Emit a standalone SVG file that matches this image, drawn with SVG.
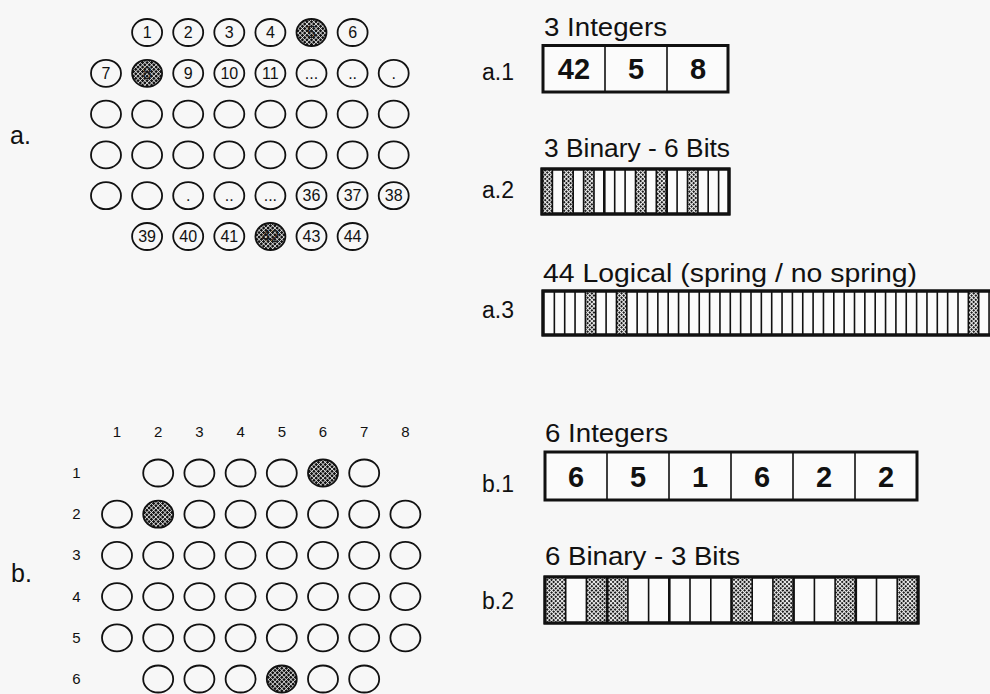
<svg xmlns="http://www.w3.org/2000/svg" width="990" height="694" viewBox="0 0 990 694">
<style>
.bg{fill:#f7f7f7}
.ring{fill:none;stroke:#111;stroke-width:1.8}
.shade{fill:url(#hatchDark);stroke:#111;stroke-width:1.8}
.n{font-family:"Liberation Sans",Arial,sans-serif;font-size:16px;fill:#111;text-anchor:middle}
.nd{font-family:"Liberation Sans",Arial,sans-serif;font-size:16px;fill:#1a1a1a;text-anchor:middle}
.ax{font-family:"Liberation Sans",Arial,sans-serif;font-size:15px;fill:#111;text-anchor:middle}
.big{font-family:"Liberation Sans",Arial,sans-serif;font-size:25px;fill:#111}
.lab{font-family:"Liberation Sans",Arial,sans-serif;font-size:23px;fill:#111}
.title{font-family:"Liberation Sans",Arial,sans-serif;font-size:25px;fill:#111}
.val{font-family:"Liberation Sans",Arial,sans-serif;font-size:29px;font-weight:bold;fill:#111;text-anchor:middle}
.box{fill:#fbfbfb;stroke:#111;stroke-width:3}
.div{fill:none;stroke:#111;stroke-width:1.6}
.divb{fill:none;stroke:#111;stroke-width:2.6}
.cell{fill:url(#hatchLight)}
</style>
<defs>
<pattern id="hatchDark" width="3.2" height="3.2" patternUnits="userSpaceOnUse" patternTransform="rotate(45)">
<rect width="3.2" height="3.2" fill="#111"/>
<rect width="0.7" height="3.2" fill="#eee"/>
<rect width="3.2" height="0.7" fill="#eee"/>
</pattern>
<pattern id="hatchLight" width="3" height="3" patternUnits="userSpaceOnUse" patternTransform="rotate(45)">
<rect width="3" height="3" fill="#1a1a1a"/>
<rect width="1" height="3" fill="#f0f0f0"/>
<rect width="3" height="1" fill="#f0f0f0"/>
</pattern>
<ellipse id="ring" rx="15" ry="13.5" class="ring"/>
<ellipse id="dot" rx="15" ry="13.5" class="shade"/>
</defs>
<rect class="bg" width="990" height="694"/>

<g id="panel-a">
<text class="big" x="10" y="144">a.</text>
<g id="a-1"><use href="#ring" x="147.1" y="32.5"/><text class="n" x="147.1" y="38">1</text></g>
<g id="a-2"><use href="#ring" x="188.2" y="32.5"/><text class="n" x="188.2" y="38">2</text></g>
<g id="a-3"><use href="#ring" x="229.3" y="32.5"/><text class="n" x="229.3" y="38">3</text></g>
<g id="a-4"><use href="#ring" x="270.4" y="32.5"/><text class="n" x="270.4" y="38">4</text></g>
<g id="a-5"><use href="#dot" x="311.5" y="32.5"/><text class="nd" x="311.5" y="38">5</text></g>
<g id="a-6"><use href="#ring" x="352.6" y="32.5"/><text class="n" x="352.6" y="38">6</text></g>

<g id="a-7"><use href="#ring" x="106" y="73.3"/><text class="n" x="106" y="78.8">7</text></g>
<g id="a-8"><use href="#dot" x="147.1" y="73.3"/><text class="nd" x="147.1" y="78.8">8</text></g>
<g id="a-9"><use href="#ring" x="188.2" y="73.3"/><text class="n" x="188.2" y="78.8">9</text></g>
<g id="a-10"><use href="#ring" x="229.3" y="73.3"/><text class="n" x="229.3" y="78.8">10</text></g>
<g id="a-11"><use href="#ring" x="270.4" y="73.3"/><text class="n" x="270.4" y="78.8">11</text></g>
<g id="a-12"><use href="#ring" x="311.5" y="73.3"/><text class="n" x="311.5" y="78.8">...</text></g>
<g id="a-13"><use href="#ring" x="352.6" y="73.3"/><text class="n" x="352.6" y="78.8">..</text></g>
<g id="a-14"><use href="#ring" x="393.7" y="73.3"/><text class="n" x="393.7" y="78.8">.</text></g>

<g id="a-row3">
<use href="#ring" x="106" y="114.1"/><use href="#ring" x="147.1" y="114.1"/><use href="#ring" x="188.2" y="114.1"/><use href="#ring" x="229.3" y="114.1"/>
<use href="#ring" x="270.4" y="114.1"/><use href="#ring" x="311.5" y="114.1"/><use href="#ring" x="352.6" y="114.1"/><use href="#ring" x="393.7" y="114.1"/>
</g>
<g id="a-row4">
<use href="#ring" x="106" y="154.9"/><use href="#ring" x="147.1" y="154.9"/><use href="#ring" x="188.2" y="154.9"/><use href="#ring" x="229.3" y="154.9"/>
<use href="#ring" x="270.4" y="154.9"/><use href="#ring" x="311.5" y="154.9"/><use href="#ring" x="352.6" y="154.9"/><use href="#ring" x="393.7" y="154.9"/>
</g>
<g id="a-31"><use href="#ring" x="106" y="195.7"/></g>
<g id="a-32"><use href="#ring" x="147.1" y="195.7"/></g>
<g id="a-33"><use href="#ring" x="188.2" y="195.7"/><text class="n" x="188.2" y="201.2">.</text></g>
<g id="a-34"><use href="#ring" x="229.3" y="195.7"/><text class="n" x="229.3" y="201.2">..</text></g>
<g id="a-35"><use href="#ring" x="270.4" y="195.7"/><text class="n" x="270.4" y="201.2">...</text></g>
<g id="a-36"><use href="#ring" x="311.5" y="195.7"/><text class="n" x="311.5" y="201.2">36</text></g>
<g id="a-37"><use href="#ring" x="352.6" y="195.7"/><text class="n" x="352.6" y="201.2">37</text></g>
<g id="a-38"><use href="#ring" x="393.7" y="195.7"/><text class="n" x="393.7" y="201.2">38</text></g>

<g id="a-39"><use href="#ring" x="147.1" y="236.5"/><text class="n" x="147.1" y="242">39</text></g>
<g id="a-40"><use href="#ring" x="188.2" y="236.5"/><text class="n" x="188.2" y="242">40</text></g>
<g id="a-41"><use href="#ring" x="229.3" y="236.5"/><text class="n" x="229.3" y="242">41</text></g>
<g id="a-42"><use href="#dot" x="270.4" y="236.5"/><text class="nd" x="270.4" y="242">42</text></g>
<g id="a-43"><use href="#ring" x="311.5" y="236.5"/><text class="n" x="311.5" y="242">43</text></g>
<g id="a-44"><use href="#ring" x="352.6" y="236.5"/><text class="n" x="352.6" y="242">44</text></g>
</g>

<g id="panel-b">
<text class="big" x="11" y="582">b.</text>
<g id="b-cols">
<text class="ax" x="117" y="437">1</text><text class="ax" x="158.2" y="437">2</text><text class="ax" x="199.4" y="437">3</text><text class="ax" x="240.6" y="437">4</text>
<text class="ax" x="281.8" y="437">5</text><text class="ax" x="323" y="437">6</text><text class="ax" x="364.2" y="437">7</text><text class="ax" x="405.4" y="437">8</text>
</g>
<g id="b-rows">
<text class="ax" x="76.5" y="478">1</text><text class="ax" x="76.5" y="519.2">2</text><text class="ax" x="76.5" y="560.4">3</text>
<text class="ax" x="76.5" y="601.6">4</text><text class="ax" x="76.5" y="642.8">5</text><text class="ax" x="76.5" y="684">6</text>
</g>
<g id="b-row1">
<use href="#ring" x="158.2" y="473"/><use href="#ring" x="199.4" y="473"/><use href="#ring" x="240.6" y="473"/><use href="#ring" x="281.8" y="473"/>
<use href="#dot" x="323" y="473"/><use href="#ring" x="364.2" y="473"/>
</g>
<g id="b-row2">
<use href="#ring" x="117" y="514.2"/><use href="#dot" x="158.2" y="514.2"/><use href="#ring" x="199.4" y="514.2"/><use href="#ring" x="240.6" y="514.2"/>
<use href="#ring" x="281.8" y="514.2"/><use href="#ring" x="323" y="514.2"/><use href="#ring" x="364.2" y="514.2"/><use href="#ring" x="405.4" y="514.2"/>
</g>
<g id="b-row3">
<use href="#ring" x="117" y="555.4"/><use href="#ring" x="158.2" y="555.4"/><use href="#ring" x="199.4" y="555.4"/><use href="#ring" x="240.6" y="555.4"/>
<use href="#ring" x="281.8" y="555.4"/><use href="#ring" x="323" y="555.4"/><use href="#ring" x="364.2" y="555.4"/><use href="#ring" x="405.4" y="555.4"/>
</g>
<g id="b-row4">
<use href="#ring" x="117" y="596.6"/><use href="#ring" x="158.2" y="596.6"/><use href="#ring" x="199.4" y="596.6"/><use href="#ring" x="240.6" y="596.6"/>
<use href="#ring" x="281.8" y="596.6"/><use href="#ring" x="323" y="596.6"/><use href="#ring" x="364.2" y="596.6"/><use href="#ring" x="405.4" y="596.6"/>
</g>
<g id="b-row5">
<use href="#ring" x="117" y="637.8"/><use href="#ring" x="158.2" y="637.8"/><use href="#ring" x="199.4" y="637.8"/><use href="#ring" x="240.6" y="637.8"/>
<use href="#ring" x="281.8" y="637.8"/><use href="#ring" x="323" y="637.8"/><use href="#ring" x="364.2" y="637.8"/><use href="#ring" x="405.4" y="637.8"/>
</g>
<g id="b-row6">
<use href="#ring" x="158.2" y="679"/><use href="#ring" x="199.4" y="679"/><use href="#ring" x="240.6" y="679"/><use href="#dot" x="281.8" y="679"/>
<use href="#ring" x="323" y="679"/><use href="#ring" x="364.2" y="679"/>
</g>
</g>

<g id="a1">
<text class="title" x="544" y="36" textLength="123" lengthAdjust="spacingAndGlyphs">3 Integers</text>
<text class="lab" x="482" y="80">a.1</text>
<rect class="box" x="543" y="45.5" width="185" height="46.5"/>
<path class="div" d="M605 45.5V92M667 45.5V92"/>
<text class="val" x="574" y="79">42</text><text class="val" x="636" y="79">5</text><text class="val" x="698" y="79">8</text>
</g>

<g id="a2">
<text class="title" x="544" y="157" textLength="186" lengthAdjust="spacingAndGlyphs">3 Binary - 6 Bits</text>
<text class="lab" x="482" y="198">a.2</text>
<rect class="box" x="542" y="169" width="187" height="45"/>
<rect class="cell" x="542" y="169" width="10.4" height="45"/>
<rect class="cell" x="562.8" y="169" width="10.4" height="45"/>
<rect class="cell" x="583.6" y="169" width="10.4" height="45"/>
<rect class="cell" x="635.5" y="169" width="10.4" height="45"/>
<rect class="cell" x="656.3" y="169" width="10.4" height="45"/>
<rect class="cell" x="687.5" y="169" width="10.4" height="45"/>
<path class="div" d="M552.4 169V214M562.8 169V214M573.2 169V214M583.6 169V214M594 169V214M614.7 169V214M625.1 169V214M635.5 169V214M645.9 169V214M656.3 169V214M677.1 169V214M687.5 169V214M697.9 169V214M708.2 169V214M718.6 169V214"/>
<path class="divb" d="M604.3 169V214M666.7 169V214"/>
<rect x="542" y="169" width="187" height="45" fill="none" stroke="#111" stroke-width="3"/>
</g>

<g id="a3">
<text class="title" x="543" y="282" textLength="374" lengthAdjust="spacingAndGlyphs">44 Logical (spring / no spring)</text>
<text class="lab" x="482" y="318">a.3</text>
<rect class="box" x="543" y="291" width="460" height="44"/>
<rect class="cell" x="585.4" y="291" width="10.35" height="44"/>
<rect class="cell" x="616.45" y="291" width="10.35" height="44"/>
<rect class="cell" x="968.35" y="291" width="10.35" height="44"/>
<path class="div" d="M554.35 291V335M564.7 291V335M575.05 291V335M585.4 291V335M595.75 291V335M606.1 291V335M616.45 291V335M626.8 291V335M637.15 291V335M647.5 291V335M657.85 291V335M668.2 291V335M678.55 291V335M688.9 291V335M699.25 291V335M709.6 291V335M719.95 291V335M730.3 291V335M740.65 291V335M751 291V335M761.35 291V335M771.7 291V335M782.05 291V335M792.4 291V335M802.75 291V335M813.1 291V335M823.45 291V335M833.8 291V335M844.15 291V335M854.5 291V335M864.85 291V335M875.2 291V335M885.55 291V335M895.9 291V335M906.25 291V335M916.6 291V335M926.95 291V335M937.3 291V335M947.65 291V335M958 291V335M968.35 291V335M978.7 291V335M989.05 291V335"/>
<rect x="543" y="291" width="460" height="44" fill="none" stroke="#111" stroke-width="3"/>
</g>

<g id="b1">
<text class="title" x="545" y="442" textLength="123" lengthAdjust="spacingAndGlyphs">6 Integers</text>
<text class="lab" x="482" y="492">b.1</text>
<rect class="box" x="545" y="452" width="372" height="48"/>
<path class="div" d="M607 452V500M669 452V500M731 452V500M793 452V500M855 452V500"/>
<text class="val" x="576" y="487">6</text><text class="val" x="638" y="487">5</text><text class="val" x="700" y="487">1</text>
<text class="val" x="762" y="487">6</text><text class="val" x="824" y="487">2</text><text class="val" x="886" y="487">2</text>
</g>

<g id="b2">
<text class="title" x="545" y="565" textLength="195" lengthAdjust="spacingAndGlyphs">6 Binary - 3 Bits</text>
<text class="lab" x="482" y="609">b.2</text>
<rect class="box" x="545" y="577" width="373" height="46"/>
<rect class="cell" x="545" y="577" width="20.7" height="46"/>
<rect class="cell" x="586.4" y="577" width="41.5" height="46"/>
<rect class="cell" x="731.5" y="577" width="20.7" height="46"/>
<rect class="cell" x="772.9" y="577" width="20.7" height="46"/>
<rect class="cell" x="835.1" y="577" width="20.7" height="46"/>
<rect class="cell" x="897.2" y="577" width="20.8" height="46"/>
<path class="div" d="M565.7 577V623M586.4 577V623M627.9 577V623M648.6 577V623M690 577V623M710.8 577V623M752.2 577V623M772.9 577V623M814.4 577V623M835.1 577V623M876.5 577V623M897.2 577V623"/>
<path class="divb" d="M607.2 577V623M669.3 577V623M731.5 577V623M793.6 577V623M855.8 577V623"/>
<rect x="545" y="577" width="373" height="46" fill="none" stroke="#111" stroke-width="3"/>
</g>
</svg>
